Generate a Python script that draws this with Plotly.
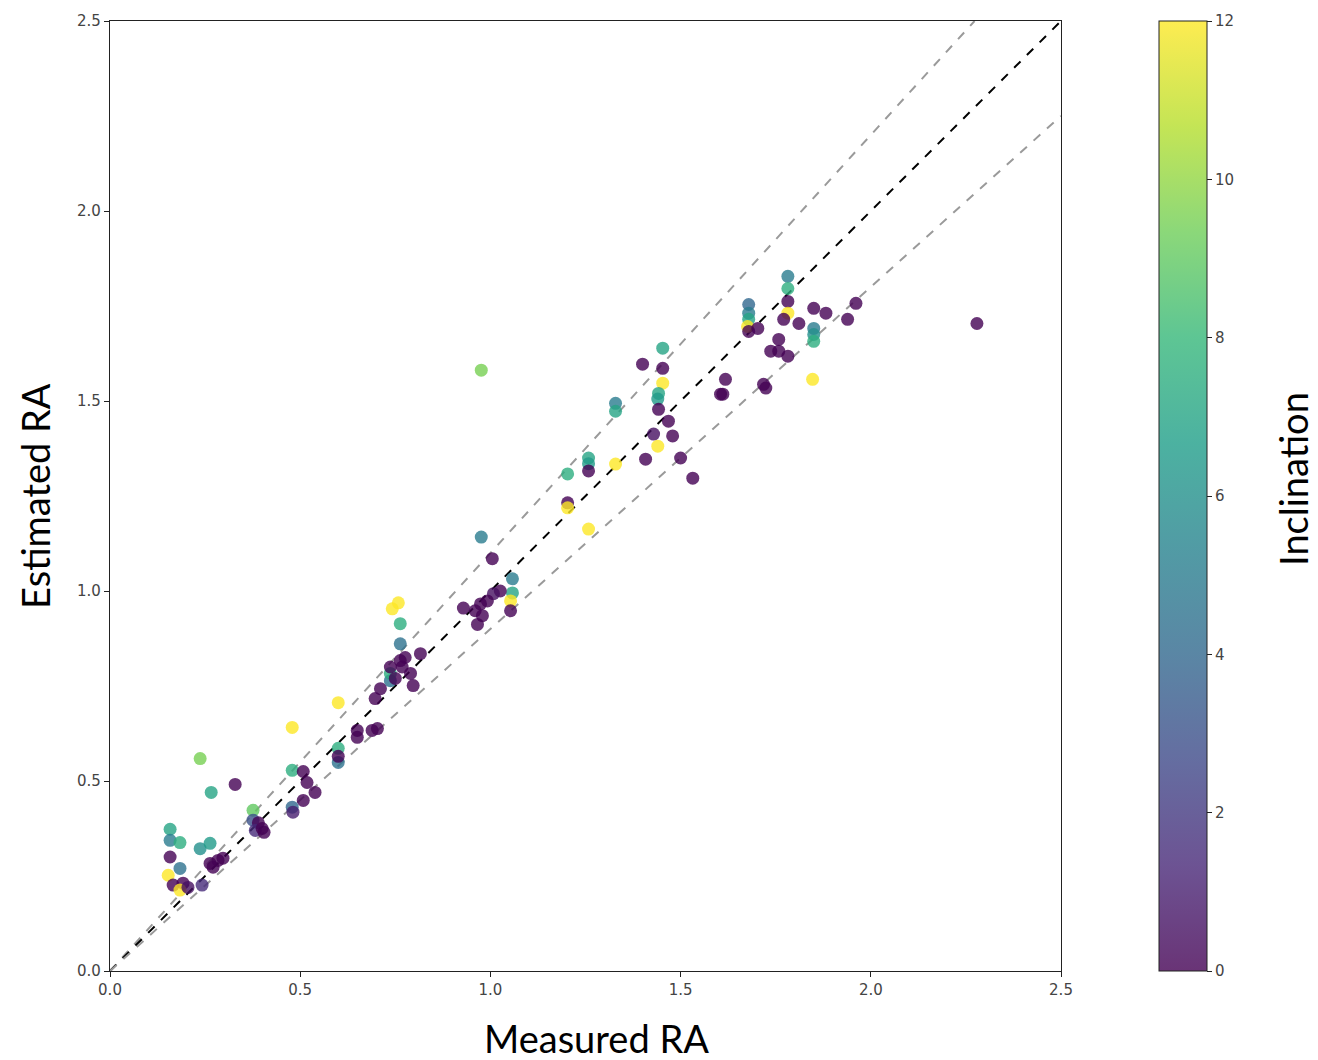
import plotly.graph_objects as go

# Measured vs. estimated RA, coloured by inclination
measured = [
    0.158, 0.158, 0.184, 0.237, 0.263, 0.158, 0.184, 0.153, 0.166, 0.192,
    0.184, 0.205, 0.242, 0.263, 0.284, 0.297, 0.271, 0.237, 0.266, 0.329,
    0.376, 0.376, 0.390, 0.382, 0.400, 0.405, 0.479, 0.508, 0.518, 0.539,
    0.508, 0.479, 0.481, 0.600, 0.600, 0.600, 0.650, 0.650, 0.689, 0.703,
    0.600, 0.479, 0.697, 0.711, 0.737, 0.737, 0.737, 0.763, 0.776, 0.768,
    0.790, 0.797, 0.816, 0.763, 0.763, 0.742, 0.758, 0.750,
    0.976, 1.005, 1.058, 1.058, 1.053, 1.053, 1.026, 1.008, 0.992, 0.974,
    0.929, 0.960, 0.979, 0.966, 0.976,
    1.203, 1.203, 1.203, 1.258, 1.258, 1.258, 1.258, 1.329, 1.329, 1.329,
    1.400, 1.453, 1.453, 1.453, 1.442, 1.440, 1.442, 1.468, 1.429, 1.440,
    1.479, 1.408, 1.500, 1.532, 1.605,
    1.782, 1.782, 1.782, 1.782, 1.771, 1.811, 1.850, 1.882, 1.939, 1.961,
    1.850, 1.850, 1.850, 1.679, 1.679, 1.679, 1.676, 1.679, 1.703, 1.758,
    1.737, 1.758, 1.782, 1.847, 1.618, 1.611, 1.718, 1.724, 2.279,
]
estimated = [
    0.373, 0.344, 0.338, 0.322, 0.336, 0.300, 0.270, 0.252, 0.226, 0.231,
    0.213, 0.220, 0.226, 0.283, 0.291, 0.297, 0.273, 0.559, 0.470, 0.491,
    0.423, 0.397, 0.390, 0.370, 0.375, 0.365, 0.528, 0.525, 0.496, 0.470,
    0.449, 0.431, 0.418, 0.586, 0.549, 0.565, 0.633, 0.615, 0.633, 0.638,
    0.706, 0.641, 0.717, 0.743, 0.764, 0.783, 0.800, 0.817, 0.825, 0.800,
    0.783, 0.751, 0.835, 0.861, 0.914, 0.953, 0.969, 0.770,
    1.142, 1.085, 1.032, 0.995, 0.974, 0.948, 1.000, 0.993, 0.974, 0.966,
    0.955, 0.948, 0.935, 0.912, 1.581,
    1.308, 1.232, 1.219, 1.163, 1.350, 1.335, 1.316, 1.334, 1.494, 1.473,
    1.597, 1.639, 1.586, 1.547, 1.520, 1.505, 1.478, 1.447, 1.413, 1.381,
    1.408, 1.347, 1.350, 1.297, 1.518,
    1.828, 1.796, 1.762, 1.731, 1.715, 1.704, 1.744, 1.731, 1.715, 1.757,
    1.691, 1.675, 1.657, 1.754, 1.731, 1.715, 1.696, 1.683, 1.691, 1.662,
    1.631, 1.631, 1.618, 1.557, 1.557, 1.518, 1.544, 1.534, 1.704,
]
inclination = [
    7, 5, 7.5, 6, 6.5, 0, 4.5, 12, 0, 0,
    12, 0.5, 1.5, 0, 0, 0, 0, 9.5, 7, 0,
    9, 3, 0, 1.5, 0, 0, 7.5, 0, 0, 0,
    0, 4, 1, 7.5, 4.5, 0, 0, 0, 0, 0,
    12, 12, 0, 0, 4.5, 7.5, 0, 0, 0, 0,
    0, 0, 0, 4.5, 7.5, 12, 12, 0,
    5, 0, 5, 7, 12, 0, 0, 0.5, 0, 0,
    0, 0, 0, 0, 9.5,
    7.5, 0, 12, 12, 7, 6.5, 0, 12, 5, 7,
    0, 7, 0, 12, 7, 6.5, 0, 0, 0.5, 12,
    0, 0, 0, 0, 0,
    5, 7.5, 0, 12, 0, 0, 0, 0, 0, 0,
    5, 6, 7.5, 4, 5, 7, 12, 0, 0, 0,
    0, 0, 0, 12, 0, 0, 0, 0, 0,
]

ratio_lines = [1.1, 1.0, 0.9]
axis_max = 2.5
tick_vals = [0.0, 0.5, 1.0, 1.5, 2.0, 2.5]
cbar_ticks = [0, 2, 4, 6, 8, 10, 12]

viridis = ['#440154', '#482878', '#3e4989', '#31688e', '#26828e',
           '#1f9e89', '#35b779', '#6ece58', '#b5de2b', '#fde725']


def rgba(hex_color, alpha):
    h = hex_color.lstrip('#')
    r, g, b = int(h[0:2], 16), int(h[2:4], 16), int(h[4:6], 16)
    return f"rgba({r},{g},{b},{alpha})"


colorscale = [[i / (len(viridis) - 1), rgba(c, 0.8)] for i, c in enumerate(viridis)]

tick_font = dict(family='DejaVu Sans', size=15, color='#444')

fig = go.Figure()

# reference lines: 1:1 in black, +/-10% in grey
for k in ratio_lines:
    x_end = min(axis_max, axis_max / k)
    fig.add_trace(go.Scatter(
        x=[0, x_end], y=[0, k * x_end], mode='lines',
        line=dict(color='black' if k == 1.0 else '#9a9a9a', width=2, dash='dash'),
        hoverinfo='skip', showlegend=False,
    ))

fig.add_trace(go.Scatter(
    x=measured, y=estimated, mode='markers', showlegend=False,
    marker=dict(
        size=13, color=inclination, cmin=0, cmax=12, colorscale=colorscale,
        line=dict(width=0),
        colorbar=dict(
            x=1.103, xanchor='left', y=0.5, yanchor='middle',
            len=1.0, lenmode='fraction', thickness=48, thicknessmode='pixels',
            outlinewidth=1, outlinecolor='#222',
            tickvals=cbar_ticks, ticks='outside', ticklen=5, tickcolor='#222',
            tickfont=tick_font,
            xpad=0, ypad=0,
        ),
    ),
))

axis_common = dict(
    range=[0, axis_max], tickvals=tick_vals, tickformat='.1f',
    showgrid=False, zeroline=False, showline=True, linecolor='#222', linewidth=1.3,
    mirror=True, ticks='outside', ticklen=5, tickcolor='#222',
    tickfont=tick_font,
)

fig.update_layout(
    width=1318, height=1060,
    margin=dict(l=110, r=257, t=19, b=89),
    plot_bgcolor='white', paper_bgcolor='white',
    xaxis=axis_common, yaxis=axis_common,
    annotations=[
        dict(text='Measured RA', xref='paper', yref='paper', x=0.512, y=-0.0704,
             xanchor='center', yanchor='middle', showarrow=False,
             font=dict(family='Lato', size=38, color='black')),
        dict(text='Estimated RA', xref='paper', yref='paper', x=-0.0789, y=0.50,
             xanchor='center', yanchor='middle', textangle=-90, showarrow=False,
             font=dict(family='Lato', size=38, color='black')),
        dict(text='Inclination', xref='paper', yref='paper', x=1.244, y=0.518,
             xanchor='center', yanchor='middle', textangle=-90, showarrow=False,
             font=dict(family='Lato', size=38, color='black')),
    ],
)

fig.write_html('out.html')
